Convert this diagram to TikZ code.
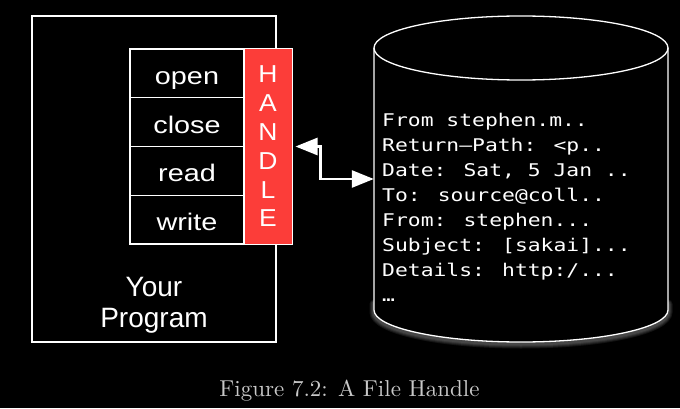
\documentclass[tikz,border=0pt]{standalone}
\usepackage{fontspec}
\usetikzlibrary{arrows.meta}
\newfontfamily\labfont[FakeStretch=1.2]{Liberation Sans}
\newfontfamily\progfont{Liberation Sans}
\newfontfamily\handlefont[FakeStretch=1.08]{Liberation Sans}
\newfontfamily\monofont[FakeStretch=1.22]{DejaVu Sans Mono}
\newfontfamily\capfont{lmroman10-regular}[Extension=.otf]
\definecolor{handlered}{RGB}{252,61,57}
\definecolor{capgray}{RGB}{200,200,200}
\begin{document}
\begin{tikzpicture}[x=1pt,y=1pt,
  box/.style={draw=white, line width=1.3pt},
  method/.style={box, minimum width=114pt, minimum height=48.75pt, inner sep=0pt,
    text=white, font=\labfont\fontsize{24}{28}\selectfont, text height=22pt, text depth=0pt},
  handlebox/.style={fill=handlered, draw=white, line width=1pt, minimum width=48pt,
    minimum height=195pt, inner sep=0pt, align=center, text=white,
    font=\handlefont\fontsize{24.5}{28.8}\selectfont},
  dbl/.style={draw=white, line width=2.6pt, line join=miter,
    {Triangle[length=22pt,width=17pt]}-{Triangle[length=22pt,width=17pt]}},
  glow/.style={draw=white, opacity=0.08, line cap=round},
]
\useasboundingbox (0,0) rectangle (680,408);
\fill[black] (0,0) rectangle (680,408);

% program box
\node[box, minimum width=244pt, minimum height=326pt, inner sep=0pt] (prog) at (154,229) {};
\node[text=white, align=center, font=\progfont\fontsize{28}{31.3}\selectfont] (yp) at (154,102.7) {Your\\Program};

% methods
\node[method] (open)  at (187,334.6) {open};
\node[method] (close) at (187,285.9) {close};
\node[method] (read)  at (187,237.1) {read};
\node[method] (write) at (187,188.4) {write};

% handle
\node[handlebox] (handle) at (268,261.5) {H\\A\\N\\D\\L\\E};

% database cylinder
\node[minimum width=294pt, minimum height=326pt, inner sep=0pt] (db) at (521,229) {};
\foreach \w in {9,7,5,3}{
  \draw[glow, line width=\w pt] (374,104) -- (374,96)
    arc[start angle=180,end angle=360,x radius=147,y radius=32] -- (668,104);
}
\fill[black] (374,360) -- (374,98)
  arc[start angle=180,end angle=360,x radius=147,y radius=32] -- (668,360)
  arc[start angle=0,end angle=180,x radius=147,y radius=32] -- cycle;
\draw[white, line width=1.3pt] (374,360) -- (374,98)
  arc[start angle=180,end angle=360,x radius=147,y radius=32] -- (668,360);
\draw[white, line width=1.3pt] (521,360) ellipse[x radius=147, y radius=32];

\node[anchor=north west, inner sep=0pt, text=white, align=left,
  font=\monofont\fontsize{17.5}{25}\selectfont] (dbtext) at (382,295.3)
  {From stephen.m..\\Return–Path: <p..\\Date: Sat, 5 Jan ..\\To: source@coll..\\From: stephen...\\Subject: [sakai]...\\Details: http:/...\\…};

% connector
\draw[dbl] ([xshift=3pt]handle.east) -- ([xshift=28pt]handle.east) |- (db.west);

% caption
\node[anchor=base, text=capgray, font=\capfont\fontsize{23}{28}\selectfont] (cap) at (349.5,11.3) {Figure 7.2: A File Handle};
\end{tikzpicture}
\end{document}
